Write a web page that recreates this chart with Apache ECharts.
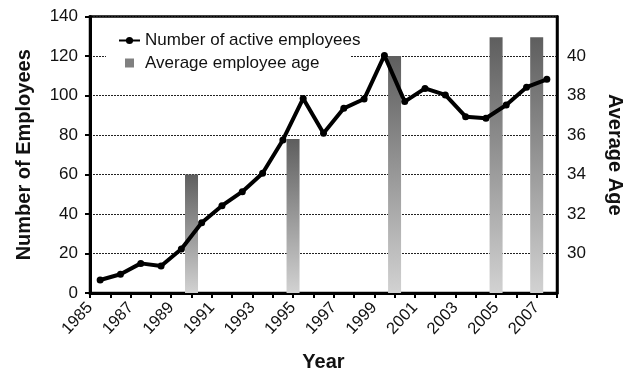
<!DOCTYPE html>
<html>
<head>
<meta charset="utf-8">
<script src="https://cdn.jsdelivr.net/npm/echarts@6/dist/echarts.min.js"></script>
<style>
  html, body { margin: 0; padding: 0; background: #fff; }
  #chart { width: 629px; height: 369px; }
</style>
</head>
<body>
<div id="chart"></div>
<script>
// Active employees per year (plotted at mid-year)
const employeeYears = [1985, 1986, 1987, 1988, 1989, 1990, 1991, 1992, 1993, 1994, 1995, 1996,
                       1997, 1998, 1999, 2000, 2001, 2002, 2003, 2004, 2005, 2006, 2007];
const employeeCounts = [6.6, 9.5, 15, 13.7, 22.3, 35.6, 44.2, 51.3, 60.6, 77.5, 98.5, 80.9,
                        93.5, 98.2, 120.3, 96.9, 103.6, 100.3, 89.3, 88.5, 95.2, 104.2, 108.2];

// Average employee age, sampled years
const ageYears = [1990, 1995, 2000, 2005, 2007];
const ageValues = [34.0, 35.8, 40.0, 40.95, 40.95];

const seriesNames = ['Number of active employees', 'Average employee age'];
const axisTitles = { x: 'Year', left: 'Number of Employees', right: 'Average Age' };

const FONT = '"Liberation Sans", Arial, Helvetica, sans-serif';
const INK = '#111';

const lineData = employeeYears.map((y, i) => [y + 0.5, employeeCounts[i]]);
const barData = ageYears.map((y, i) => [y, ageValues[i]]);

const chart = echarts.init(document.getElementById('chart'), null, { renderer: 'canvas' });

chart.setOption({
  animation: false,
  backgroundColor: '#fff',
  textStyle: { fontFamily: FONT, color: INK },
  grid: {
    left: 90, right: 72, top: 16.5, bottom: 76,
    outerBoundsMode: 'none', containLabel: false,
    show: true, borderColor: '#000', borderWidth: 2.5, backgroundColor: 'transparent'
  },
  legend: {
    orient: 'vertical',
    left: 112, top: 28,
    padding: [4, 6],
    itemWidth: 21, itemHeight: 9, itemGap: 5.5,
    textStyle: { fontFamily: FONT, fontSize: 17, color: INK, lineHeight: 17 },
    data: [
      { name: seriesNames[0] },
      { name: seriesNames[1], icon: 'path://M0,0H10V10H0Z', itemStyle: { color: '#808080' } }
    ]
  },
  graphic: [{
    type: 'rect', z: 1, silent: true,
    shape: { x: 106, y: 50, width: 245, height: 13 },
    style: { fill: '#fff' }
  }],
  xAxis: {
    type: 'value',
    min: 1985, max: 2008, interval: 1,
    name: axisTitles.x,
    nameLocation: 'middle', nameGap: 59,
    nameTextStyle: { fontFamily: FONT, fontSize: 20, fontWeight: 'bold', color: INK },
    axisLine: { show: true, lineStyle: { color: '#000', width: 3 } },
    axisTick: { show: true, length: 5, lineStyle: { color: '#000', width: 2 } },
    splitLine: { show: false },
    axisLabel: {
      rotate: 47, margin: 12, fontSize: 16.5, color: INK, fontFamily: FONT,
      formatter: v => (v % 2 === 1 && v <= 2007) ? String(v) : ''
    }
  },
  yAxis: [
    {
      type: 'value', position: 'left',
      min: 0, max: 140, interval: 20,
      name: axisTitles.left,
      nameLocation: 'middle', nameGap: 56,
      nameTextStyle: { fontFamily: FONT, fontSize: 20, fontWeight: 'bold', color: INK },
      axisLine: { show: true, lineStyle: { color: '#000', width: 3 } },
      axisTick: { show: true, length: 5, lineStyle: { color: '#000', width: 2 } },
      axisLabel: { margin: 12, fontSize: 17, color: INK, fontFamily: FONT },
      splitLine: { show: true, lineStyle: { color: '#222', width: 1.2, type: [2, 1] } }
    },
    {
      type: 'value', position: 'right',
      min: 28, max: 42, interval: 2, startValue: 28,
      name: axisTitles.right,
      nameLocation: 'middle', nameGap: 48, nameRotate: -90,
      nameTextStyle: { fontFamily: FONT, fontSize: 20, fontWeight: 'bold', color: INK },
      axisLine: { show: true, lineStyle: { color: '#000', width: 2.5 } },
      axisTick: { show: false },
      axisLabel: {
        margin: 10, fontSize: 17, color: INK, fontFamily: FONT,
        formatter: v => (v > 28 && v < 42) ? String(v) : ''
      },
      splitLine: { show: false }
    }
  ],
  series: [
    {
      name: seriesNames[1],
      type: 'bar',
      yAxisIndex: 1,
      barWidth: 13,
      data: barData,
      itemStyle: {
        color: new echarts.graphic.LinearGradient(0, 0, 0, 1, [
          { offset: 0, color: '#5e5e5e' },
          { offset: 1, color: '#d2d2d2' }
        ])
      }
    },
    {
      name: seriesNames[0],
      type: 'line',
      data: lineData,
      symbol: 'circle',
      symbolSize: 7,
      z: 3,
      lineStyle: { color: '#000', width: 4 },
      itemStyle: { color: '#000' }
    }
  ]
});
</script>
</body>
</html>
